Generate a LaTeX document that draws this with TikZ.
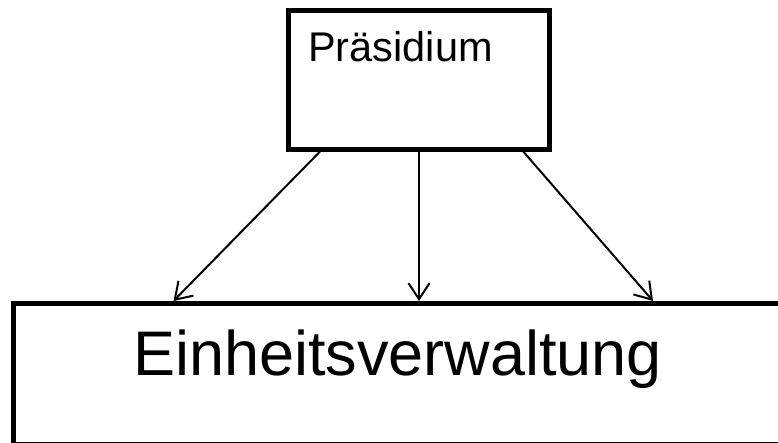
\documentclass[tikz,border=0pt]{standalone}
\usepackage{fontspec}
\setmainfont{Liberation Sans}
\usetikzlibrary{arrows.meta}
\begin{document}
\begin{tikzpicture}[x=1pt,y=-1pt,
  boxstyle/.style={draw,line width=5pt,inner sep=0pt,outer sep=0pt},
  conn/.style={line width=2pt,-{Straight Barb[length=16pt,width=21pt]}},
  lbl/.style={inner sep=0pt,anchor=base west}]
\useasboundingbox (0,0) rectangle (778,443);
\clip (0,0) rectangle (778,443);
\fill[white] (0,0) rectangle (778,443);
\node[boxstyle, minimum width=261pt, minimum height=139pt] (p) at (418.5,80) {};
\node[boxstyle, minimum width=786.5pt, minimum height=140.5pt] (e) at (406.75,373.75) {};
\node[lbl] (ptext) at (308,62) {\fontsize{41.5}{49}\selectfont Präsidium};
\node[lbl] (etext) at (133,375) {\fontsize{63}{75}\selectfont Einheitsverwaltung};
\draw[conn] ([xshift=-96.5pt]p.south) -- ([xshift=160pt,yshift=2.5pt]e.north west);
\draw[conn] ([xshift=0.5pt]p.south) -- ([xshift=405.5pt,yshift=2.5pt]e.north west);
\draw[conn] ([xshift=103pt]p.south) -- ([xshift=639.5pt,yshift=2.5pt]e.north west);
\end{tikzpicture}
\end{document}
